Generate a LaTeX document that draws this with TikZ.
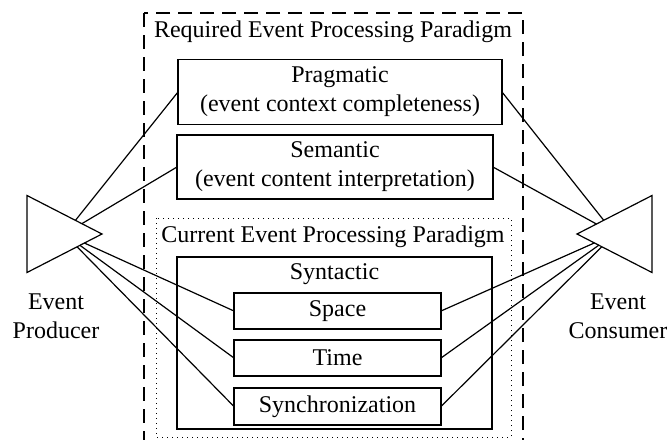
\documentclass[tikz,border=0pt]{standalone}
\usepackage{fontspec}
\setmainfont{Liberation Serif}
\begin{document}
\begin{tikzpicture}[x=0.5pt,y=-0.5pt,
  font=\fontsize{12}{14.5}\selectfont,
  every node/.style={inner sep=0pt,outer sep=0pt},
  lw/.style={line width=0.6pt},
  box/.style={draw,lw,rectangle,align=center},
  conn/.style={lw}]
\useasboundingbox (0,0) rectangle (667,439);
% dashed outer frame
\draw[lw,dash pattern=on 7pt off 4pt] (144,13) rectangle (523,450);
\node (req) at (333,32) {Required Event Processing Paradigm};
\node[box,minimum width=162pt,minimum height=32.5pt] (prag) at (340,92) {Pragmatic\\(event context completeness)};
\node[box,minimum width=158pt,minimum height=32pt] (sem) at (335,167) {Semantic\\(event content interpretation)};
% dotted frame
\draw[line width=0.5pt,dotted] (156,218) rectangle (511,437);
\node (cur) at (333,237) {Current Event Processing Paradigm};
\node[box,minimum width=157.5pt,minimum height=86pt] (syn) at (334.5,343) {};
\node (syntxt) at (334.5,274) {Syntactic};
\node[box,minimum width=103.5pt,minimum height=18pt] (space) at (337.5,311) {Space};
\node[box,minimum width=103.5pt,minimum height=18pt] (time) at (337.5,358) {Time};
\node[box,minimum width=103.5pt,minimum height=18.5pt] (sync) at (337.5,406.5) {Synchronization};
% producer triangle
\coordinate (pa) at (102,234);
\coordinate (pt) at (27,195.5);
\coordinate (pb) at (27,272.5);
\coordinate (pc) at (64.5,234);
\draw[lw,line join=miter] (pa) -- (pt) -- (pb) -- cycle;
% consumer triangle
\coordinate (ca) at (577,234);
\coordinate (ct) at (652,195.5);
\coordinate (cb) at (652,272.5);
\coordinate (cc) at (614.5,234);
\draw[lw,line join=miter] (ca) -- (ct) -- (cb) -- cycle;
\node[align=center] (prodl) at (56,316) {Event\\Producer};
\node[align=center] (consl) at (618,316) {Event\\Consumer};
% connectors
\foreach \t in {prag,sem}{
  \draw[conn] (intersection of pc--\t.west and pa--pt) -- (\t.west);
  \draw[conn] (\t.east) -- (intersection of cc--\t.east and ca--ct);
}
\foreach \t in {space,time,sync}{
  \draw[conn] (intersection of pc--\t.west and pa--pb) -- (\t.west);
  \draw[conn] (\t.east) -- (intersection of cc--\t.east and ca--cb);
}
\end{tikzpicture}
\end{document}
